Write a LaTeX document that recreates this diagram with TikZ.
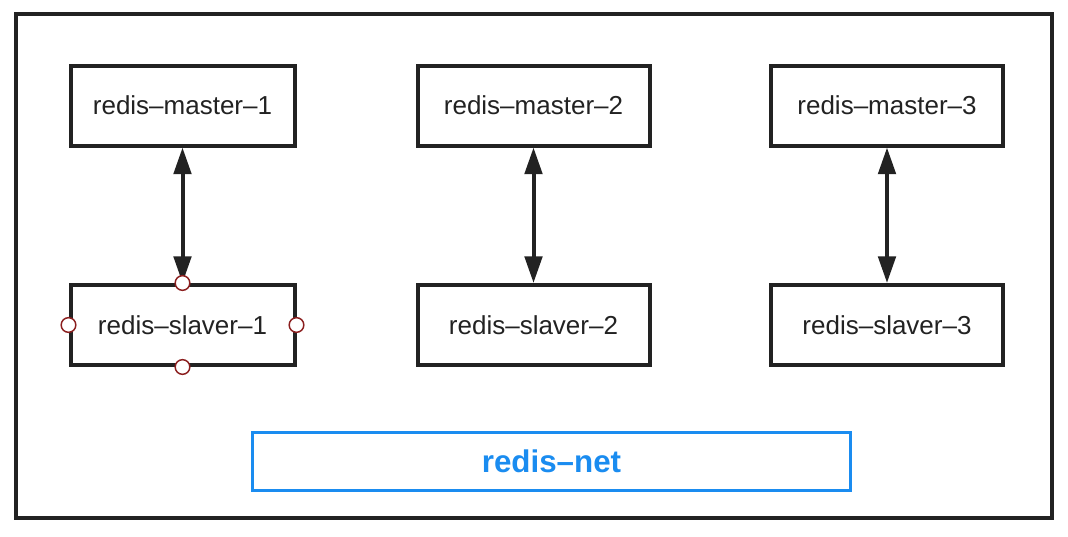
\documentclass[tikz,border=0pt]{standalone}
\usepackage{fontspec}
\setmainfont{Liberation Sans}
\usetikzlibrary{arrows.meta}
\definecolor{netblue}{HTML}{1A8CF0}
\definecolor{portred}{HTML}{8B1E1E}
\definecolor{ink}{HTML}{222222}
\begin{document}
\begin{tikzpicture}[x=0.75pt, y=-0.75pt,
	redis/.style={draw=ink, line width=3pt, minimum width=168pt, minimum height=60pt, font=\fontsize{19.5}{22}\selectfont, text=ink},
	wide/.style={redis, minimum width=174pt},
	net/.style={draw=netblue, line width=2.25pt, minimum width=448pt, minimum height=43.5pt, text=netblue, font=\bfseries\fontsize{23.5}{26}\selectfont},
	link/.style={draw=ink, line width=3pt, {Triangle[length=20pt,width=13pt]}-{Triangle[length=20pt,width=13pt]}},
	port/.style={draw=portred, line width=1.1pt, fill=white}]
	\useasboundingbox (0,0) rectangle (1068,536);
	\draw[ink, line width=3pt] (16,14) rectangle (1052,518);

	% masters
	\node[redis] (m1) at (182.5,105.5) {redis--master--1};
	\node[wide] (m2) at (533.5,105.5) {redis--master--2};
	\node[wide] (m3) at (887,105.5) {redis--master--3};

	% slavers
	\node[redis] (s1) at (182.5,325) {redis--slaver--1};
	\node[wide] (s2) at (533.5,325) {redis--slaver--2};
	\node[wide] (s3) at (887,325) {redis--slaver--3};

	\node[net] (net) at (551.5,461.5) {redis--net};

	\draw[link] (m1) -- (s1);
	\draw[link] (m2) -- (s2);
	\draw[link] (m3) -- (s3);

	% selection handles
	\draw[port] (s1.north) circle (5.5pt);
	\draw[port] (s1.south) circle (5.5pt);
	\draw[port] (s1.west) circle (5.5pt);
	\draw[port] (s1.east) circle (5.5pt);
\end{tikzpicture}
\end{document}
